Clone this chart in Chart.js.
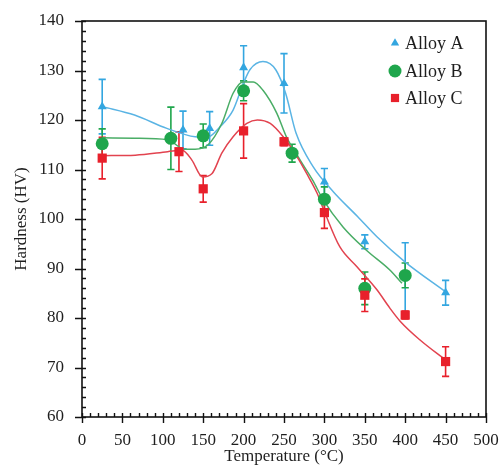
<!DOCTYPE html>
<html>
<head>
<meta charset="utf-8">
<script src="https://cdn.jsdelivr.net/npm/chart.js@4/dist/chart.umd.min.js"></script>
<style>
  html, body { margin: 0; padding: 0; background: #ffffff; }
  canvas { display: block; }
</style>
</head>
<body>
<canvas id="c" width="500" height="474"></canvas>
<script>
// Measured hardness (HV) with standard deviations
const seriesNames = ['Alloy A', 'Alloy B', 'Alloy C'];

const tempA = [25, 125, 158, 200, 250, 300, 350, 400, 450];
const hardA = [122.7, 118.0, 118.3, 130.6, 127.4, 107.5, 95.4, 88.2, 85.1];
const errA  = [5.5, 3.8, 3.4, 4.4, 6.0, 2.7, 1.4, 7.0, 2.5];

const tempB = [25, 110, 150, 200, 260, 300, 350, 400];
const hardB = [115.2, 116.3, 116.8, 125.9, 113.3, 104.0, 86.0, 88.6];
const errB  = [3.0, 6.3, 2.4, 2.0, 1.8, 2.5, 3.3, 2.5];

const tempC = [25, 120, 150, 200, 250, 300, 350, 400, 450];
const hardC = [112.3, 113.6, 106.1, 117.8, 115.6, 101.3, 84.6, 80.6, 71.2];
const errC  = [4.2, 4.0, 2.7, 5.5, 0.8, 3.2, 3.3, 0.8, 3.0];

// Smoothed trend curves
const fitTempA = [25, 65, 105, 140, 155, 170, 187, 200, 208, 224, 240, 252, 265, 286, 311, 341, 365, 400, 450];
const fitHardA = [122.7, 121.0, 118.3, 116.6, 116.5, 118.5, 122.0, 127.5, 130.2, 131.8, 130.1, 125.4, 117.3, 110.6, 105.5, 100.5, 96.4, 91.3, 85.3];

const fitTempB = [25, 65, 106, 127, 140, 156, 173, 187, 199, 212, 224, 241, 253, 270, 286, 298, 323, 352, 381, 396];
const fitHardB = [116.4, 116.3, 116.0, 114.1, 114.1, 115.0, 119.3, 125.4, 127.7, 127.7, 126.0, 121.4, 116.6, 111.9, 107.7, 104.0, 98.4, 93.7, 89.7, 87.0];

const fitTempC = [25, 66, 106, 124, 136, 149, 161, 173, 187, 204, 217, 233, 249, 266, 278, 291, 300, 319, 340, 365, 381, 394, 418, 450];
const fitHardC = [112.8, 112.9, 113.6, 113.9, 111.9, 108.5, 109.2, 113.3, 116.6, 119.3, 120.0, 119.3, 116.6, 112.6, 109.2, 105.2, 101.5, 94.4, 90.4, 85.7, 82.0, 79.3, 75.6, 71.5];

const xTickStep = 50, yTickStep = 10;

const colA = '#33a6e0', colB = '#1fa64c', colC = '#e8202b';
const lineA = '#5ab4e4', lineB = '#4aad66', lineC = '#e2434f';

const serif = "'Liberation Serif', 'Times New Roman', serif";
const textCol = '#1e1e1e';

const zip = (xs, ys) => xs.map((v, i) => ({ x: v, y: ys[i] }));

const markerSets = [
  { label: seriesNames[0], temp: tempA, hard: hardA, err: errA, color: colA, style: 'triangle', r: 5.2, lr: 4.8 },
  { label: seriesNames[1], temp: tempB, hard: hardB, err: errB, color: colB, style: 'circle',   r: 6.5, lr: 6.5 },
  { label: seriesNames[2], temp: tempC, hard: hardC, err: errC, color: colC, style: 'rect',     r: 6.5, lr: 5.8 }
];

const curveDs = (xs, ys, col, ord) => ({
  data: zip(xs, ys), showLine: true, borderColor: col, borderWidth: 1.5,
  pointRadius: 0, cubicInterpolationMode: 'monotone', fill: false, order: ord
});

const markerDs = (s, ord) => ({
  label: s.label, data: zip(s.temp, s.hard), showLine: false,
  pointStyle: s.style, pointRadius: s.r, pointHoverRadius: s.r,
  backgroundColor: s.color, borderColor: s.color, borderWidth: 0, order: ord
});

// error bars beneath everything
const errorBars = {
  id: 'errorBars',
  beforeDatasetsDraw(chart) {
    const { ctx, scales: { x, y } } = chart;
    markerSets.forEach(s => {
      ctx.save();
      ctx.strokeStyle = s.color;
      ctx.lineWidth = 1.6;
      s.temp.forEach((t, i) => {
        const px = x.getPixelForValue(t);
        const top = y.getPixelForValue(s.hard[i] + s.err[i]);
        const bot = y.getPixelForValue(s.hard[i] - s.err[i]);
        ctx.beginPath();
        ctx.moveTo(px, top); ctx.lineTo(px, bot);
        ctx.moveTo(px - 3.6, top); ctx.lineTo(px + 3.6, top);
        ctx.moveTo(px - 3.6, bot); ctx.lineTo(px + 3.6, bot);
        ctx.stroke();
      });
      ctx.restore();
    });
  }
};

// plot frame with major/minor tick marks
const frame = {
  id: 'frame',
  afterDatasetsDraw(chart) {
    const { ctx, chartArea: a, scales: { x, y } } = chart;
    ctx.save();
    ctx.strokeStyle = '#111';
    ctx.lineWidth = 1.6;
    ctx.strokeRect(a.left, a.top, a.right - a.left, a.bottom - a.top);
    ctx.lineWidth = 1.4;
    ctx.beginPath();
    for (let v = x.min; v <= x.max; v += xTickStep / 5) {
      const px = Math.round(x.getPixelForValue(v)) + 0.5;
      const major = Math.abs(v % xTickStep) < 1e-6;
      ctx.moveTo(px, a.bottom - 4);
      ctx.lineTo(px, a.bottom + (major ? 6 : 0));
    }
    for (let v = y.min; v <= y.max; v += yTickStep / 5) {
      const py = Math.round(y.getPixelForValue(v)) + 0.5;
      const major = Math.abs(v % yTickStep) < 1e-6;
      ctx.moveTo(a.left - (major ? 7 : 0), py);
      ctx.lineTo(a.left + 4, py);
    }
    ctx.stroke();
    ctx.restore();
  }
};

// legend in the upper right of the plot
const cornerLegend = {
  id: 'cornerLegend',
  afterDraw(chart) {
    const { ctx, chartArea: a } = chart;
    const mx = a.right - 91, tx = a.right - 81;
    const rows = [43, 71, 98];
    ctx.save();
    ctx.font = '18px ' + serif;
    ctx.fillStyle = textCol;
    ctx.textBaseline = 'middle';
    markerSets.forEach((s, i) => {
      ctx.fillStyle = s.color;
      Chart.helpers.drawPoint(ctx, { pointStyle: s.style, radius: s.lr, borderWidth: 0, rotation: 0 }, mx, rows[i]);
      ctx.fillStyle = textCol;
      ctx.fillText(s.label, tx, rows[i] + 1);
    });
    ctx.restore();
  }
};

function fixPadding(s) {
  s.paddingLeft = 0; s.paddingRight = 0; s.paddingTop = 0; s.paddingBottom = 0;
}

new Chart(document.getElementById('c'), {
  type: 'scatter',
  data: {
    datasets: [
      markerDs(markerSets[2], 0),
      markerDs(markerSets[1], 1),
      markerDs(markerSets[0], 2),
      curveDs(fitTempC, fitHardC, lineC, 3),
      curveDs(fitTempB, fitHardB, lineB, 4),
      curveDs(fitTempA, fitHardA, lineA, 5)
    ]
  },
  options: {
    responsive: false,
    animation: false,
    events: [],
    layout: { padding: { top: 21, right: 14, left: 0, bottom: 0 } },
    plugins: { legend: { display: false }, tooltip: { enabled: false } },
    scales: {
      x: {
        type: 'linear', min: 0, max: 500,
        grid: { display: false },
        border: { display: false },
        ticks: { stepSize: xTickStep, padding: 5, color: textCol, font: { family: serif, size: 17 } },
        title: { display: true, text: 'Temperature (°C)', color: textCol, font: { family: serif, size: 17 }, padding: { top: 0, bottom: 7 } },
        afterFit(s) { s.height = 57; fixPadding(s); }
      },
      y: {
        type: 'linear', min: 60, max: 140,
        grid: { display: false },
        border: { display: false },
        ticks: { stepSize: yTickStep, padding: 10, color: textCol, font: { family: serif, size: 17 } },
        title: { display: true, text: 'Hardness (HV)', color: textCol, font: { family: serif, size: 17 }, padding: { top: 11, bottom: 0 } },
        afterFit(s) { s.width = 82; fixPadding(s); }
      }
    }
  },
  plugins: [errorBars, frame, cornerLegend]
});
</script>
</body>
</html>
